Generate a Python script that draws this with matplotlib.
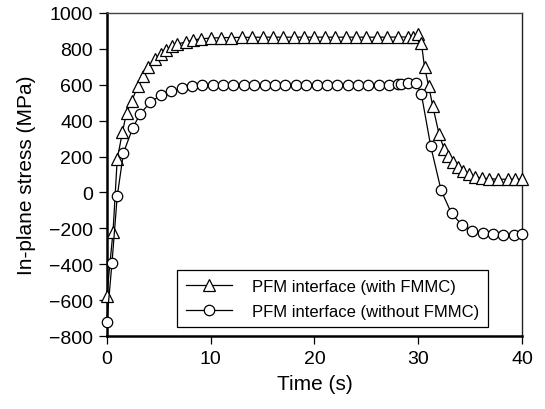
import matplotlib
matplotlib.use("Agg")
import matplotlib.pyplot as plt

plt.rcParams['font.family'] = ['Liberation Sans', 'DejaVu Sans']

# Series with FMMC (triangles)
t_with = [0, 0.6, 1.0, 1.5, 1.9, 2.4, 3.0, 3.5, 4.0, 4.6, 5.2, 5.7, 6.3, 6.8, 7.6, 8.3, 9.1,
          10, 11, 12, 13, 14, 15, 16, 17, 18, 19, 20, 21, 22, 23, 24, 25, 26, 27, 28, 29, 29.5,
          30.0, 30.3, 30.6, 31.0, 31.4, 32.0, 32.5, 32.9, 33.3, 33.8, 34.3, 34.9, 35.5, 36.1,
          36.8, 37.7, 38.6, 39.3, 40.0]
s_with = [-575, -218, 184, 335, 444, 511, 592, 648, 698, 743, 771, 793, 816, 827, 838, 849, 856,
          860, 862, 863, 864, 864, 865, 865, 865, 865, 865, 865, 865, 865, 865, 865, 865, 865, 865, 866, 866, 868,
          885, 832, 698, 592, 480, 324, 240, 201, 167, 140, 117, 100, 88, 80,
          76, 74, 73, 73, 73]

# Series without FMMC (circles)
t_without = [0, 0.5, 1.0, 1.6, 2.5, 3.2, 4.2, 5.2, 6.2, 7.2, 8.2, 9.2, 10.2, 11.2, 12.2, 13.2,
             14.2, 15.2, 16.2, 17.2, 18.2, 19.2, 20.2, 21.2, 22.2, 23.2, 24.2, 25.2, 26.2, 27.2,
             28.0, 28.3, 29.0, 29.8, 30.3, 31.2, 32.2, 33.2, 34.2, 35.2, 36.2, 37.2, 38.2, 39.2, 40.0]
s_without = [-720, -391, -22, 220, 360, 436, 503, 542, 564, 581, 592, 597, 598, 599, 600, 600,
             600, 600, 600, 600, 600, 600, 600, 600, 600, 600, 600, 600, 600, 601,
             602, 603, 607, 608, 547, 257, 11, -117, -181, -214, -225, -230, -235, -235, -230]

labels = ['PFM interface (with FMMC)', 'PFM interface (without FMMC)']

fig = plt.figure(figsize=(5.45, 4.1), dpi=100)
ax = fig.add_axes([0.196, 0.178, 0.762, 0.788])

ax.plot(t_with, s_with, color='black', lw=0.9, marker='^', markersize=8,
        markerfacecolor='white', markeredgecolor='black', markeredgewidth=0.9,
        label=labels[0], clip_on=False, zorder=3)
ax.plot(t_without, s_without, color='black', lw=0.9, marker='o', markersize=7.5,
        markerfacecolor='white', markeredgecolor='black', markeredgewidth=0.9,
        label=labels[1], clip_on=False, zorder=3)

ax.set_xlim(0, 40)
ax.set_ylim(-800, 1000)
ax.set_xticks([0, 10, 20, 30, 40])
ax.set_yticks(list(range(-800, 1001, 200)))
ax.set_yticklabels([str(v).replace('-', '\u2212') for v in range(-800, 1001, 200)])

ax.tick_params(axis='both', direction='out', length=6, width=0.9, labelsize=14, pad=4)
ax.tick_params(top=False, right=False)

ax.spines['left'].set_linewidth(1.8)
ax.spines['bottom'].set_linewidth(1.8)
ax.spines['top'].set_linewidth(1.0)
ax.spines['right'].set_linewidth(1.0)
ax.spines['top'].set_color('#444444')
ax.spines['right'].set_color('#222222')

ax.set_xlabel('Time (s)', fontsize=15, labelpad=5)
ax.set_ylabel('In-plane stress (MPa)', fontsize=15, labelpad=9)

leg = ax.legend(loc='lower left', bbox_to_anchor=(0.17, 0.028), fontsize=12,
                frameon=True, fancybox=False, edgecolor='black', framealpha=1,
                handlelength=2.8, borderpad=0.5, labelspacing=0.6, handletextpad=1.2,
                borderaxespad=0)
leg.get_frame().set_linewidth(0.9)

fig.savefig('out.png', dpi=100)
